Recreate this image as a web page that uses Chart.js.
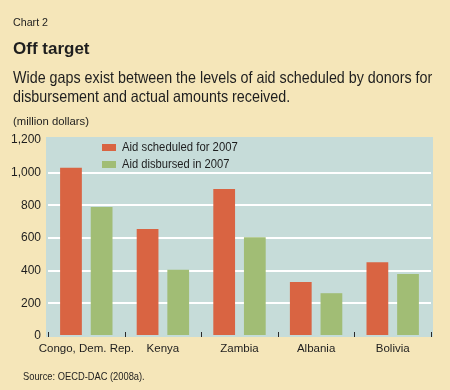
<!DOCTYPE html>
<html><head><meta charset="utf-8">
<script src="https://cdn.jsdelivr.net/npm/chart.js@4"></script>
<style>
html,body{margin:0;padding:0;}
body{width:450px;height:390px;background:#f5e6b9;position:relative;overflow:hidden;font-family:'Liberation Sans Narrow','Arial Narrow','Liberation Sans',sans-serif;color:#1e1e1e;}
.t{position:absolute;white-space:nowrap;transform-origin:0 0;}
canvas{position:absolute;left:0;top:0;}
.box{position:absolute;width:14px;height:7px;}
</style></head><body>
<canvas id="c" width="450" height="390"></canvas>
<div class="t" style="left:13px;top:17px;font-size:11px;line-height:11px" data-w="35">Chart 2</div>
<div class="t" style="left:13px;top:40px;font-size:17px;line-height:17px;font-weight:bold" data-w="77">Off target</div>
<div class="t" style="left:13px;top:68.5px;font-size:16.5px;line-height:16.5px" data-w="419">Wide gaps exist between the levels of aid scheduled by donors for</div>
<div class="t" style="left:13px;top:87.5px;font-size:16.5px;line-height:16.5px" data-w="277">disbursement and actual amounts received.</div>
<div class="t" style="left:13px;top:115.5px;font-size:11px;line-height:11px" data-w="76">(million dollars)</div>
<div class="t" style="left:23px;top:370.5px;font-size:11px;line-height:11px" data-w="122">Source: OECD-DAC (2008a).</div>
<div id="legend"></div>
<script>
const categories = ['Congo, Dem. Rep.', 'Kenya', 'Zambia', 'Albania', 'Bolivia'];
const scheduled = [1030, 655, 900, 330, 452];
const disbursed = [790, 405, 605, 262, 380];
const seriesNames = ['Aid scheduled for 2007', 'Aid disbursed in 2007'];
const seriesColors = ['#d96442', '#a1bd75'];
const yMin = 0, yMax = 1200, yStep = 200;

// legend
const lg = document.getElementById('legend');
const legBoxTops = [143.5, 161];
const legTextTops = [140.8, 158.3];
const legWidths = [116, 107];
seriesNames.forEach((n, i) => {
  const b = document.createElement('div');
  b.className = 'box';
  b.style.left = '102px'; b.style.top = legBoxTops[i] + 'px'; b.style.background = seriesColors[i];
  lg.appendChild(b);
  const t = document.createElement('div');
  t.className = 't';
  t.style.cssText = 'left:122px;top:' + legTextTops[i] + 'px;font-size:12px;line-height:12px;';
  t.dataset.w = legWidths[i];
  t.textContent = n;
  lg.appendChild(t);
});

// fit HTML text widths
document.querySelectorAll('.t[data-w]').forEach(el => {
  const w = el.scrollWidth;
  const target = +el.dataset.w;
  if (w > 0) el.style.transform = 'scaleX(' + (target / w) + ')';
});

const bgPlugin = {
  id: 'plotBg',
  beforeDraw(chart) {
    const a = chart.chartArea, ctx = chart.ctx;
    ctx.save();
    ctx.fillStyle = '#c6dcd9';
    ctx.fillRect(a.left - 2, a.top - 3, a.right - a.left + 4, a.bottom - a.top + 4);
    ctx.restore();
  }
};
const tickPlugin = {
  id: 'catTicks',
  afterDatasetsDraw(chart) {
    const xs = chart.scales.x, a = chart.chartArea, ctx = chart.ctx;
    const w = xs.getPixelForValue(1) - xs.getPixelForValue(0);
    ctx.save();
    ctx.strokeStyle = '#2a2a2a';
    ctx.lineWidth = 1;
    for (let i = 0; i <= categories.length; i++) {
      const x = Math.round(xs.getPixelForValue(0) - w / 2 + i * w) + 0.5;
      ctx.beginPath();
      ctx.moveTo(x, a.bottom - 4);
      ctx.lineTo(x, a.bottom + 1);
      ctx.stroke();
    }
    ctx.restore();
  }
};

Chart.defaults.font.family = "'Liberation Sans Narrow','Arial Narrow','Liberation Sans',sans-serif";
Chart.defaults.color = '#1e1e1e';

new Chart(document.getElementById('c'), {
  type: 'bar',
  data: {
    labels: categories,
    datasets: [
      { label: seriesNames[0], data: scheduled, backgroundColor: seriesColors[0] },
      { label: seriesNames[1], data: disbursed, backgroundColor: seriesColors[1] }
    ]
  },
  options: {
    responsive: false,
    animation: false,
    devicePixelRatio: 1,
    layout: { padding: { top: 140, right: 19, bottom: 30, left: 0 } },
    datasets: { bar: { categoryPercentage: 0.8, barPercentage: 0.71 } },
    plugins: { legend: { display: false }, tooltip: { enabled: false } },
    scales: {
      x: {
        grid: { display: false, drawTicks: false },
        border: { display: false },
        ticks: { font: { size: 11.5 }, padding: 6, maxRotation: 0, autoSkip: false },
        afterFit(s) { s.height = 24; }
      },
      y: {
        min: yMin, max: yMax,
        border: { display: false },
        grid: {
          drawTicks: false,
          lineWidth: 2,
          color: c => (c.tick && c.tick.value > yMin && c.tick.value < yMax) ? '#ffffff' : 'rgba(0,0,0,0)'
        },
        ticks: {
          stepSize: yStep, padding: 7, font: { size: 12 },
          callback: v => v.toLocaleString('en-US')
        },
        afterFit(s) { s.width = 48; }
      }
    }
  },
  plugins: [bgPlugin, tickPlugin]
});
</script>
</body></html>
